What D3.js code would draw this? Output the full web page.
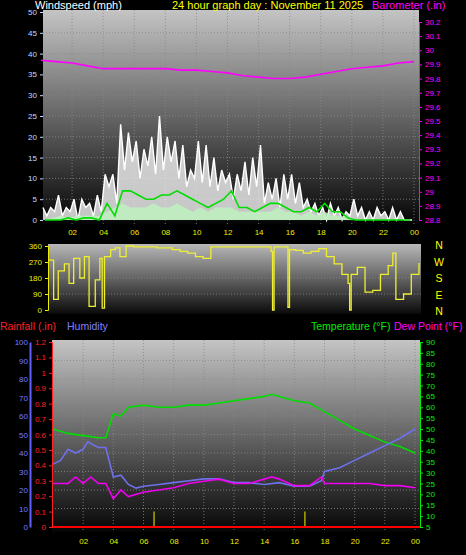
<!DOCTYPE html>
<html><head><meta charset="utf-8">
<script src="https://cdn.jsdelivr.net/npm/d3@7"></script>
<style>body{margin:0;background:#000}svg{display:block;font-family:"Liberation Sans",Arial,sans-serif}</style>
</head><body><svg id="c" width="466" height="555"></svg>
<script>
const hourTicks=[2,4,6,8,10,12,14,16,18,20,22,24];
const gust=[3,1,3,2,6,1,3,2,5,0,5,3,4,1,6,2,11,8,11,4,23,12,21,14,19,10,17,13,20,11,25,12,20,14,19,10,18,8,12,10,19,9,18,8,15,7,12,9,11,5,11,7,14,6,15,8,18,4,9,5,10,3,11,5,11,4,9,3,5,2,4,1,3,0,4,1,3,0,2,1,5,1,3,0,2,0,3,1,2,0,3,0,2,0,0,0];
const windAvg=[0,0,0,0.5,0,0.5,0.5,0,4,1,7,7,6,5,5,6,6,7,6,5,4,3,4,5,7,3,3,2,3,4,4,3,2,2,3,2,4,2,2,0.5,0,0,0,0,0,0,0,0];
const windSpd=[0,0.5,1,0.5,1,1,1,1,2,3,4,3,3,3,4,3,3,4,3,2,3,2,3,3,3,2,2,2,2,2,3,2,2,1,2,1,2,1,1,0.5,0,0,0,0,0,0,0,0];
const baro=[29.93,29.92,29.91,29.89,29.87,29.87,29.87,29.87,29.87,29.86,29.86,29.85,29.84,29.82,29.81,29.80,29.80,29.81,29.83,29.85,29.87,29.88,29.89,29.91,29.92];
const dirHours=[0,0.3,0.6,1,1.3,1.6,2,2.3,2.6,3,3.3,3.45,3.6,4,4.3,4.6,5,5.5,6,7,8,8.5,9,9.5,10,10.5,11,12,13,14,14.4,14.5,14.6,15,15.4,15.5,15.6,16,16.5,17,17.5,18,18.5,19,19.4,19.5,19.6,20,20.5,21,21.5,22,22.3,22.5,23,23.5,24];
const dirVals=[280,60,220,260,150,290,180,300,20,170,290,10,300,340,350,300,360,355,355,350,340,330,320,300,290,355,355,355,355,355,330,0,355,355,355,15,340,335,320,330,345,300,260,200,150,0,200,240,100,110,200,250,320,60,90,200,265];
const tHours=[0,1,2,3,3.5,4,4.5,5,6,7,8,9,10,11,12,13,14,14.5,15,16,17,18,19,20,21,22,23,24];
const temp=[50,48,47,46,46,57,56,60,61,60,60,61,61,62,63,64,65,66,65,63,62,58,54,50,47,44,42,39];
const hHours=[0,0.5,1,1.5,2,2.3,3,3.5,4,4.5,5,5.5,6,7,8,9,10,11,12,13,14,15,16,17,17.8,18,19,20,21,22,23,24];
const hum=[34,36,42,40,42,46,43,43,27,28,23,21,22,23,24,25,26,26,24,24,23,24,22,22,25,30,32,36,40,44,48,53];
const dHours=[0,1,1.5,2,2.5,3,3.5,4,4.5,5,6,7,8,9,10,11,12,13,14,14.5,15,16,17,17.8,18,19,20,21,22,23,24];
const dew=[25,25,28,25,28,25,25,18,22,19,21,22,23,25,26,27,25,25,27,28,27,24,24,28,25,25,25,25,24,24,23];
const rainEvents=[6.7,16.7];

const svg=d3.select("#c");
const defs=svg.append("defs");
function grad(id,top,bot){const g=defs.append("linearGradient").attr("id",id).attr("x1",0).attr("y1",0).attr("x2",0).attr("y2",1);
g.append("stop").attr("offset","0%").attr("stop-color",top);g.append("stop").attr("offset","100%").attr("stop-color",bot);}
grad("g1","#c4c4c4","#050505");grad("g2","#b8b8b8","#0a0a0a");grad("g3","#c4c4c4","#050505");
const fmt=d=>String(d%24).padStart(2,"0");
function txt(x,y,s,c,a,sz){svg.append("text").attr("x",x).attr("y",y).attr("fill",c).attr("font-size",sz||11).attr("text-anchor",a||"start").text(s);}

// ---- Panel 1
const x1=d3.scaleLinear().domain([0,24]).range([41,414]);
const yw=d3.scaleLinear().domain([0,50]).range([220,12]);
const yb=d3.scaleLinear().domain([28.8,30.2]).range([220,22]);
svg.append("rect").attr("x",43).attr("y",10).attr("width",376).attr("height",214).attr("fill","url(#g1)");
const grid1=svg.append("g").attr("stroke","#888").attr("stroke-dasharray","1,2").attr("stroke-width",0.8);
d3.range(5,50,5).forEach(v=>grid1.append("line").attr("x1",43).attr("x2",419).attr("y1",yw(v)).attr("y2",yw(v)));
hourTicks.forEach(h=>grid1.append("line").attr("x1",x1(h)).attr("x2",x1(h)).attr("y1",10).attr("y2",224));
svg.append("line").attr("x1",43).attr("x2",419).attr("y1",yw(0)).attr("y2",yw(0)).attr("stroke","#111");
const qx=i=>x1(i*0.25+0.125), hx=i=>x1(i*0.5+0.25);
svg.append("path").attr("d",d3.area().x((d,i)=>qx(i)).y0(yw(0)).y1(d=>yw(d))(gust)).attr("fill","#e8e8e8").attr("opacity",0.85);
svg.append("path").attr("d",d3.line().x((d,i)=>qx(i)).y(d=>yw(d))(gust)).attr("fill","none").attr("stroke","#ffffff").attr("stroke-width",1.4);
svg.append("path").attr("d",d3.area().x((d,i)=>hx(i)).y0(yw(0)).y1(d=>yw(d))(windSpd)).attr("fill","#bfeebf").attr("opacity",0.9);
svg.append("path").attr("d",d3.line().x((d,i)=>hx(i)).y(d=>yw(d))(windAvg)).attr("fill","none").attr("stroke","#00dd00").attr("stroke-width",1.6);
svg.append("path").attr("d",d3.line().x((d,i)=>x1(i)).y(d=>yb(d))(baro)).attr("fill","none").attr("stroke","#ff00ff").attr("stroke-width",1.6);
const la=svg.append("g").attr("transform","translate(43,0)").call(d3.axisLeft(yw).tickValues(d3.range(0,51,5)).tickSize(3));
la.selectAll("text").attr("fill","#c8d8ff").attr("font-size",8);la.selectAll("line").attr("stroke","#c8d8ff");la.select(".domain").attr("stroke","none");
const ra=svg.append("g").attr("transform","translate(419,0)").call(d3.axisRight(yb).tickValues(d3.range(28.8,30.21,0.1)).tickFormat(d=>+d.toFixed(1)).tickSize(3));
ra.selectAll("text").attr("fill","#ff00ff").attr("font-size",8);ra.selectAll("line").attr("stroke","#ff00ff");ra.select(".domain").attr("stroke","#ff00ff");
const b1=svg.append("g").attr("transform","translate(0,226)").call(d3.axisBottom(x1).tickValues(hourTicks).tickFormat(fmt).tickSize(0));
b1.selectAll("text").attr("fill","#eeee00").attr("font-size",8);b1.select(".domain").attr("stroke","none");
txt(35,9,"Windspeed (mph)","#fff","start",11);
txt(172,9,"24 hour graph day : November 11 2025","#ffff00","start",11);
txt(372,9,"Barometer (.in)","#ff00ff","start",11);

// ---- Panel 2
const x2=d3.scaleLinear().domain([0,24]).range([49,419]);
const yd=d3.scaleLinear().domain([0,360]).range([310,246]);
svg.append("rect").attr("x",48).attr("y",244).attr("width",373).attr("height",70).attr("fill","url(#g2)");
const grid2=svg.append("g").attr("stroke","#888").attr("stroke-dasharray","1,2").attr("stroke-width",0.8);
[90,180,270].forEach(v=>grid2.append("line").attr("x1",48).attr("x2",421).attr("y1",yd(v)).attr("y2",yd(v)));
svg.append("path").attr("d",d3.line().x((d,i)=>x2(dirHours[i])).y(d=>yd(d)).curve(d3.curveStepAfter)(dirVals)).attr("fill","none").attr("stroke","#eeee33").attr("stroke-width",1.3);
const l2=svg.append("g").attr("transform","translate(48,0)").call(d3.axisLeft(yd).tickValues([0,90,180,270,360]).tickSize(3));
l2.selectAll("text").attr("fill","#eeee00").attr("font-size",8);l2.selectAll("line").attr("stroke","#eeee00");l2.select(".domain").attr("stroke","#eeee00");
["N","W","S","E","N"].forEach((s,i)=>txt(439,249+i*16.5,s,"#ffff00","middle",10.5));

// ---- Panel 3
txt(0,330,"Rainfall (.in)","#ff2020","start",10.5);
txt(67,330,"Humidity","#8080ff","start",10.5);
txt(311,330,"Temperature (°F)","#00ee00","start",10.5);
txt(394,330,"Dew Point (°F)","#ff00ff","start",10.5);
const x3=d3.scaleLinear().domain([0,24]).range([53,415]);
const yh=d3.scaleLinear().domain([0,100]).range([527,342]);
const yr=d3.scaleLinear().domain([0,1.2]).range([527,342]);
const yt=d3.scaleLinear().domain([5,90]).range([527,342]);
svg.append("rect").attr("x",52).attr("y",340).attr("width",368).attr("height",192).attr("fill","url(#g3)");
const grid3=svg.append("g").attr("stroke","#888").attr("stroke-dasharray","1,2").attr("stroke-width",0.8);
d3.range(10,100,10).forEach(v=>grid3.append("line").attr("x1",52).attr("x2",420).attr("y1",yh(v)).attr("y2",yh(v)));
hourTicks.forEach(h=>grid3.append("line").attr("x1",x3(h)).attr("x2",x3(h)).attr("y1",340).attr("y2",532));
rainEvents.forEach(h=>svg.append("line").attr("x1",x3(h)).attr("x2",x3(h)).attr("y1",yr(0)).attr("y2",yr(0.1)).attr("stroke","#aaaa00").attr("stroke-width",1.5));
svg.append("path").attr("d",d3.line().x((d,i)=>x3(tHours[i])).y(d=>yt(d))(temp)).attr("fill","none").attr("stroke","#00dd00").attr("stroke-width",1.6);
svg.append("path").attr("d",d3.line().x((d,i)=>x3(hHours[i])).y(d=>yh(d))(hum)).attr("fill","none").attr("stroke","#7070ee").attr("stroke-width",1.6);
svg.append("path").attr("d",d3.line().x((d,i)=>x3(dHours[i])).y(d=>yt(d))(dew)).attr("fill","none").attr("stroke","#ee00ee").attr("stroke-width",1.6);
svg.append("line").attr("x1",52).attr("x2",420).attr("y1",yr(0)).attr("y2",yr(0)).attr("stroke","#ff0000").attr("stroke-width",2);
const lh=svg.append("g").attr("transform","translate(30,0)").call(d3.axisLeft(yh).tickValues(d3.range(0,101,10)).tickSize(0).tickPadding(2));
lh.selectAll("text").attr("fill","#7a7aff").attr("font-size",8);lh.select(".domain").attr("stroke","#6060ff").attr("stroke-width",2);
const lr=svg.append("g").attr("transform","translate(52,0)").call(d3.axisLeft(yr).tickValues(d3.range(0,1.21,0.1)).tickFormat(d=>+d.toFixed(1)).tickSize(3));
lr.selectAll("text").attr("fill","#ff2020").attr("font-size",8);lr.selectAll("line").attr("stroke","#ff2020");lr.select(".domain").attr("stroke","#ff2020");
const rt=svg.append("g").attr("transform","translate(420,0)").call(d3.axisRight(yt).tickValues(d3.range(5,91,5)).tickSize(3));
rt.selectAll("text").attr("fill","#00ee00").attr("font-size",8);rt.selectAll("line").attr("stroke","#00ee00");rt.select(".domain").attr("stroke","#00ee00");
const b3=svg.append("g").attr("transform","translate(0,535)").call(d3.axisBottom(x3).tickValues(hourTicks).tickFormat(fmt).tickSize(0));
b3.selectAll("text").attr("fill","#eeee00").attr("font-size",8);b3.select(".domain").attr("stroke","none");
</script></body></html>
